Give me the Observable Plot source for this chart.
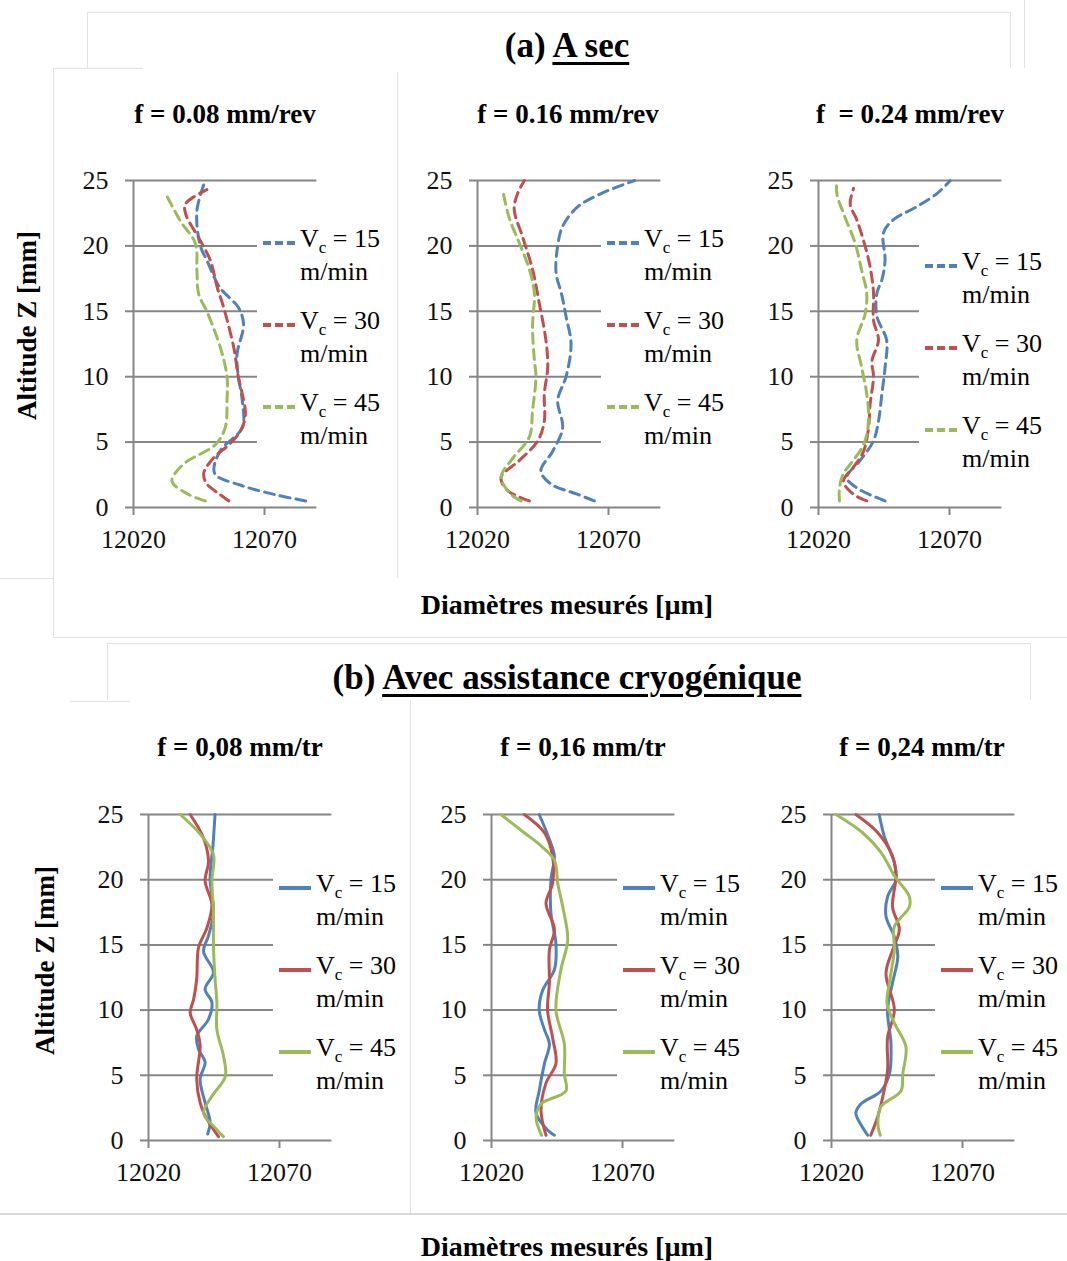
<!DOCTYPE html>
<html><head><meta charset="utf-8">
<script src="https://cdn.jsdelivr.net/npm/d3@7"></script>
<script src="https://cdn.jsdelivr.net/npm/@observablehq/plot@0.6"></script>
<style>
body{margin:0;background:#fff;}
#root{position:relative;width:1067px;height:1261px;overflow:hidden;font-family:"Liberation Serif","Times New Roman",serif;color:#000;background:#fff;}
.abs{position:absolute;white-space:pre;}
.bline{position:absolute;background:#e2e2e2;}
</style></head><body><div id="root"></div>
<script>
// ---------- DATA ----------
const yTicks = [0, 5, 10, 15, 20, 25];
const xTicks = [12020, 12070];
const xDomain = [12020, 12090];
const yDomain = [0, 25];
const speeds = ["15", "30", "45"];
const feedsDry = ["f = 0.08 mm/rev", "f = 0.16 mm/rev", "f  = 0.24 mm/rev"];
const feedsCryo = ["f = 0,08 mm/tr", "f = 0,16 mm/tr", "f = 0,24 mm/tr"];
const titleDryPrefix = "(a) ", titleDry = "A sec";
const titleCryoPrefix = "(b) ", titleCryo = "Avec assistance cryogénique";
const yTitle = "Altitude Z [mm]";
const xTitle = "Diamètres mesurés [µm]";

// [altitude z (mm), diameter (µm)] — (a) A sec
const A1_15 = [[0.5,12085.7],[1,12073.6],[1.7,12061],[2.6,12051],[4.3,12053],[6.1,12061.5],[8.2,12061.5],[10,12060],[11.7,12059.5],[14,12062],[15.3,12060],[16.8,12053],[18.9,12048],[20,12045.5],[22.7,12044.2],[25,12047.4]];
const A1_30 = [[0.5,12056.4],[1,12053],[1.8,12048],[2.6,12046.8],[3.8,12050.6],[4.8,12056.4],[5.9,12061],[7.1,12062.7],[8.7,12061.5],[10,12060],[12.2,12058.3],[15.3,12054.4],[16.8,12052],[18.9,12049.3],[20.4,12045.5],[22.4,12040],[23.2,12039.8],[24.3,12048]];
const A1_45 = [[0.5,12047.4],[1,12041],[2,12034.7],[3.3,12039],[4.8,12051.2],[6.1,12055],[8.2,12055.7],[10,12055.7],[12.2,12053.2],[15,12048],[16.3,12044.9],[18.1,12044.2],[20.2,12043.6],[21.9,12037.9],[24.1,12032]];
const A2_15 = [[0.5,12064.6],[1,12058.3],[1.8,12048],[2.8,12044.2],[4.3,12048.7],[6.1,12052.5],[8.2,12050.6],[10,12053.8],[12.5,12055.7],[14.6,12053.8],[16.4,12052],[17.9,12050],[20,12050.6],[21.5,12052.5],[23,12058.3],[24,12067.2],[25,12080]];
const A2_30 = [[0.5,12039.8],[1.3,12031.5],[2.3,12029],[3.6,12036],[5.1,12043],[6.6,12045.5],[8.7,12045.5],[10.7,12046.8],[12.8,12046.1],[15.6,12043.6],[18.2,12041],[20.7,12037.2],[22.8,12034],[24,12035.3],[25,12037.9]];
const A2_45 = [[0.5,12036.6],[1,12032.8],[2.3,12029],[3.6,12032.8],[5.4,12039.8],[7.4,12041],[10,12042.3],[11.3,12041.7],[13.8,12041],[16.4,12041.7],[18.2,12039.8],[20.2,12036],[22.2,12032],[24.3,12029.6]];
const A3_15 = [[0.5,12045.4],[1.5,12034.6],[2.3,12030.8],[3.6,12035.9],[5.1,12041],[6.6,12042.9],[8.7,12044.2],[10.7,12045.4],[12.8,12046],[14.6,12042.3],[16.4,12042.3],[17.4,12044.2],[18.9,12045.4],[21,12044.8],[22,12048.6],[23,12057.5],[24,12065.2],[25,12070.3]];
const A3_30 = [[0.5,12038.4],[1,12033.4],[2,12029.5],[3.1,12033.4],[4.3,12037.2],[6.1,12039.1],[7.9,12039.7],[10,12041],[11.2,12040.4],[12.8,12042.9],[14.3,12041],[16.4,12041],[18.4,12039.7],[20.4,12037.2],[22,12034.6],[23.2,12032.1],[24.4,12033.4]];
const A3_45 = [[0.5,12028],[1.5,12028],[2.6,12029.5],[3.3,12032.1],[4.8,12037.2],[6.6,12039.1],[8.7,12038.4],[10.7,12036.5],[12.8,12034.6],[14.8,12037.8],[16.4,12038.4],[18.1,12036.5],[20.2,12034],[22.5,12029.5],[24,12027],[25,12027]];
// (b) Avec assistance cryogénique
const B1_15 = [[0.5,12042.6],[1.4,12043.5],[2.9,12041.6],[4.7,12039.7],[6,12041.6],[7,12039.1],[8,12038.4],[9.3,12042.9],[10.6,12044.2],[11.6,12041.6],[12.9,12044.8],[14.5,12041],[15.7,12042.9],[17.5,12044.8],[20.1,12043.5],[22.6,12044.6],[25,12045.4]];
const B1_30 = [[0.3,12046.7],[1.9,12041.6],[2.9,12039.7],[4.7,12038.4],[7.3,12039.7],[8.5,12038.4],[9.8,12035.9],[10.8,12037.2],[12.4,12038.4],[14.8,12039.1],[16.3,12042.3],[18.1,12044.2],[19.9,12041.6],[21.4,12042.9],[23.2,12041],[25,12035.9]];
const B1_45 = [[0.3,12048.6],[1.1,12044.8],[2.1,12041],[3.4,12044.2],[4.9,12049.3],[6.5,12048.6],[8.5,12046.1],[10.6,12046.1],[12.4,12045.4],[14.9,12044.8],[17.5,12044.8],[19.9,12044.2],[21.9,12044.8],[23.5,12039.7],[25,12032.1]];
const B2_15 = [[0.4,12044],[0.8,12041.4],[2.1,12037],[3.8,12038.2],[5.9,12040.2],[7.4,12042.1],[8.5,12040.2],[10,12038.2],[11.5,12039.5],[13.1,12044],[15.1,12044.6],[17.4,12042.7],[20,12042.7],[21.8,12044],[23.1,12042.1],[25,12038.2]];
const B2_30 = [[0.4,12040.8],[2.3,12038.9],[4.4,12040.8],[5.9,12044.6],[7.9,12043.3],[10,12041.4],[12.1,12042.1],[14.6,12042.1],[16.2,12044],[18.2,12040.8],[19.7,12043.3],[21.8,12043.3],[23.6,12040.2],[25,12032.5]];
const B2_45 = [[0.4,12039.1],[1.8,12037],[2.8,12038.9],[3.8,12048.4],[5.1,12047.8],[7.4,12047.8],[10,12044.6],[13.1,12046.5],[15.4,12049.1],[17.9,12047.2],[19.7,12045.3],[21.5,12044],[22.6,12038.9],[23.6,12032.5],[25,12023.6]];
const B3_15 = [[0.4,12033.8],[1,12031.9],[2.1,12029.3],[2.8,12031.2],[3.8,12038.9],[5.1,12042.1],[7.4,12042.7],[10,12041.4],[12.1,12043.3],[14.1,12045.3],[15.6,12044],[17.2,12040.8],[18.7,12041.4],[20,12044.6],[21.3,12044],[23.3,12040.2],[25,12038.2]];
const B3_30 = [[0.4,12035],[1.8,12037.6],[3.3,12039.5],[5.4,12041.4],[7.9,12041.4],[10,12044],[12.8,12040.8],[14.6,12043.3],[16.2,12045.9],[17.9,12043.3],[20.3,12044.6],[21.8,12043.3],[23.6,12037.7],[25,12029.3]];
const B3_45 = [[0.4,12038.6],[1.3,12037.7],[2.6,12038.9],[3.8,12046.5],[5.1,12047.2],[7.2,12048.4],[9,12044],[10.5,12041.2],[12.1,12042.1],[14.6,12044],[16.4,12044],[17.9,12049.7],[18.7,12049.7],[20.3,12044],[22.1,12038.9],[23.6,12031.9],[25,12021.7]];

// ---------- STYLE ----------
const COLORS = ["#4F81BD", "#C0504D", "#9BBB59"];
const GRID = "#868686";
const TXT = "#111";
const FONT = '"Liberation Serif","Times New Roman",serif';
const PXPERUM = 2.62;

const root = document.getElementById("root");

function addText(html, {cx, baseline, size, bold = false, left = null}) {
  const d = document.createElement("div");
  d.className = "abs";
  d.style.fontSize = size + "px";
  d.style.lineHeight = size + "px";
  d.style.fontWeight = bold ? "bold" : "normal";
  d.style.top = (baseline - 0.8375 * size) + "px";
  if (left === null) {
    d.style.left = (cx - 500) + "px";
    d.style.width = "1000px";
    d.style.textAlign = "center";
  } else {
    d.style.left = left + "px";
  }
  d.innerHTML = html;
  root.appendChild(d);
  return d;
}

function addVText(str, cx, cy, size) {
  const d = document.createElement("div");
  d.className = "abs";
  d.style.fontSize = size + "px";
  d.style.lineHeight = size + "px";
  d.style.fontWeight = "bold";
  d.style.width = "400px";
  d.style.height = size + "px";
  d.style.textAlign = "center";
  d.style.left = (cx - 200) + "px";
  d.style.top = (cy - size / 2) + "px";
  d.style.transform = "rotate(-90deg)";
  d.textContent = str;
  root.appendChild(d);
}

function addBorder(x, y, w, h, color) {
  const d = document.createElement("div");
  d.className = "bline";
  d.style.left = x + "px"; d.style.top = y + "px";
  d.style.width = w + "px"; d.style.height = h + "px";
  if (color) d.style.background = color;
  root.appendChild(d);
}

function makePanel(series, dashed, x0, yTop, yBot) {
  const ML = 70, MR = 10, MT = 20, MB = 50;
  const pw = (xDomain[1] - xDomain[0]) * PXPERUM;
  const ph = yBot - yTop;
  const chart = Plot.plot({
    width: ML + pw + MR, height: MT + ph + MB,
    marginLeft: ML, marginRight: MR, marginTop: MT, marginBottom: MB,
    x: {domain: xDomain},
    y: {domain: yDomain},
    style: {fontFamily: FONT, fontSize: "26px", background: "transparent", overflow: "visible", color: TXT},
    marks: [
      Plot.ruleY(yTicks, {x1: xDomain[0], x2: xDomain[1], stroke: GRID, strokeWidth: 2}),
      Plot.ruleX([xDomain[0]], {y1: yDomain[0], y2: yDomain[1], stroke: GRID, strokeWidth: 2}),
      Plot.axisY({ticks: yTicks, tickSize: 8, tickPadding: 17, stroke: GRID, strokeWidth: 2, fill: TXT, label: null}),
      Plot.axisX({ticks: xTicks, tickSize: 8, tickPadding: 14, tickFormat: d => String(d), stroke: GRID, strokeWidth: 2, fill: TXT, label: null}),
      ...series.map((s, i) => Plot.line(s, {
        x: d => d[1], y: d => d[0], stroke: COLORS[i], strokeWidth: 3,
        strokeDasharray: dashed ? "10,6" : undefined, curve: "catmull-rom"
      }))
    ]
  });
  chart.style.position = "absolute";
  chart.style.left = (x0 - ML) + "px";
  chart.style.top = (yTop - MT) + "px";
  root.appendChild(chart);
}

function makeLegend(dashed, boxL, boxT, boxR, boxB, baseline0) {
  const box = document.createElement("div");
  box.className = "abs";
  box.style.background = "#fff";
  box.style.left = boxL + "px"; box.style.top = boxT + "px";
  box.style.width = (boxR - boxL) + "px"; box.style.height = (boxB - boxT) + "px";
  root.appendChild(box);
  speeds.forEach((v, i) => {
    const b = baseline0 + 82 * i;
    const ly = b - 5;
    const ns = "http://www.w3.org/2000/svg";
    const svg = document.createElementNS(ns, "svg");
    svg.setAttribute("width", 34); svg.setAttribute("height", 8);
    svg.style.position = "absolute";
    svg.style.left = (boxL + 6) + "px";
    svg.style.top = (ly - 4) + "px";
    const ln = document.createElementNS(ns, "line");
    ln.setAttribute("x1", 0); ln.setAttribute("x2", 32);
    ln.setAttribute("y1", 4); ln.setAttribute("y2", 4);
    ln.setAttribute("stroke", COLORS[i]); ln.setAttribute("stroke-width", 4);
    if (dashed) ln.setAttribute("stroke-dasharray", "8,4");
    svg.appendChild(ln);
    root.appendChild(svg);
    addText('V<span style="font-size:17px;position:relative;top:6px">c</span> = ' + v, {left: boxL + 43, baseline: b, size: 26});
    addText("m/min", {left: boxL + 43, baseline: b + 33, size: 26});
  });
}

// faint frame lines of the original composite
addBorder(87, 12, 923, 1); addBorder(87, 12, 1, 56); addBorder(1010, 12, 1, 56);
addBorder(1024, 0, 1, 68);
addBorder(53, 68, 90, 1); addBorder(53, 68, 1, 569);
addBorder(397, 72, 1, 506);
addBorder(0, 578, 53, 1);
addBorder(53, 637, 1014, 1);
addBorder(107, 643, 923, 1); addBorder(107, 643, 1, 57); addBorder(1030, 643, 1, 57);
addBorder(70, 701, 60, 1);
addBorder(410, 700, 1, 513);
addBorder(0, 1213, 1067, 2, "#d9d9d9");

// titles
const U = s => '<span style="text-decoration:underline;text-decoration-thickness:3px;text-underline-offset:5px">' + s + '</span>';
addText(titleDryPrefix + U(titleDry), {cx: 567, baseline: 57, size: 35, bold: true});
addText(titleCryoPrefix + U(titleCryo), {cx: 567, baseline: 689, size: 35, bold: true});

// panels
const dryX = [133, 477, 818];
const cryoX = [148, 491, 831];
const drySeries = [[A1_15, A1_30, A1_45], [A2_15, A2_30, A2_45], [A3_15, A3_30, A3_45]];
const cryoSeries = [[B1_15, B1_30, B1_45], [B2_15, B2_30, B2_45], [B3_15, B3_30, B3_45]];
drySeries.forEach((s, i) => makePanel(s, true, dryX[i], 180, 507));
cryoSeries.forEach((s, i) => makePanel(s, false, cryoX[i], 814, 1140));

// panel titles
[225, 568, 910].forEach((cx, i) => addText(feedsDry[i], {cx, baseline: 124, size: 27, bold: true}));
[240, 583, 922].forEach((cx, i) => addText(feedsCryo[i], {cx, baseline: 757, size: 27, bold: true}));

// axis titles
addText(xTitle, {cx: 567, baseline: 614, size: 28, bold: true});
addText(xTitle, {cx: 567, baseline: 1256, size: 28, bold: true});
addVText(yTitle, 27, 325, 27);
addVText(yTitle, 45, 960, 27);

// legends
makeLegend(true, 257, 212, 395, 462, 248);
makeLegend(true, 601, 212, 745, 462, 248);
makeLegend(true, 919, 235, 1060, 485, 271);
makeLegend(false, 273, 857, 408, 1105, 893);
makeLegend(false, 617, 857, 755, 1105, 893);
makeLegend(false, 935, 857, 1067, 1105, 893);
</script></body></html>
